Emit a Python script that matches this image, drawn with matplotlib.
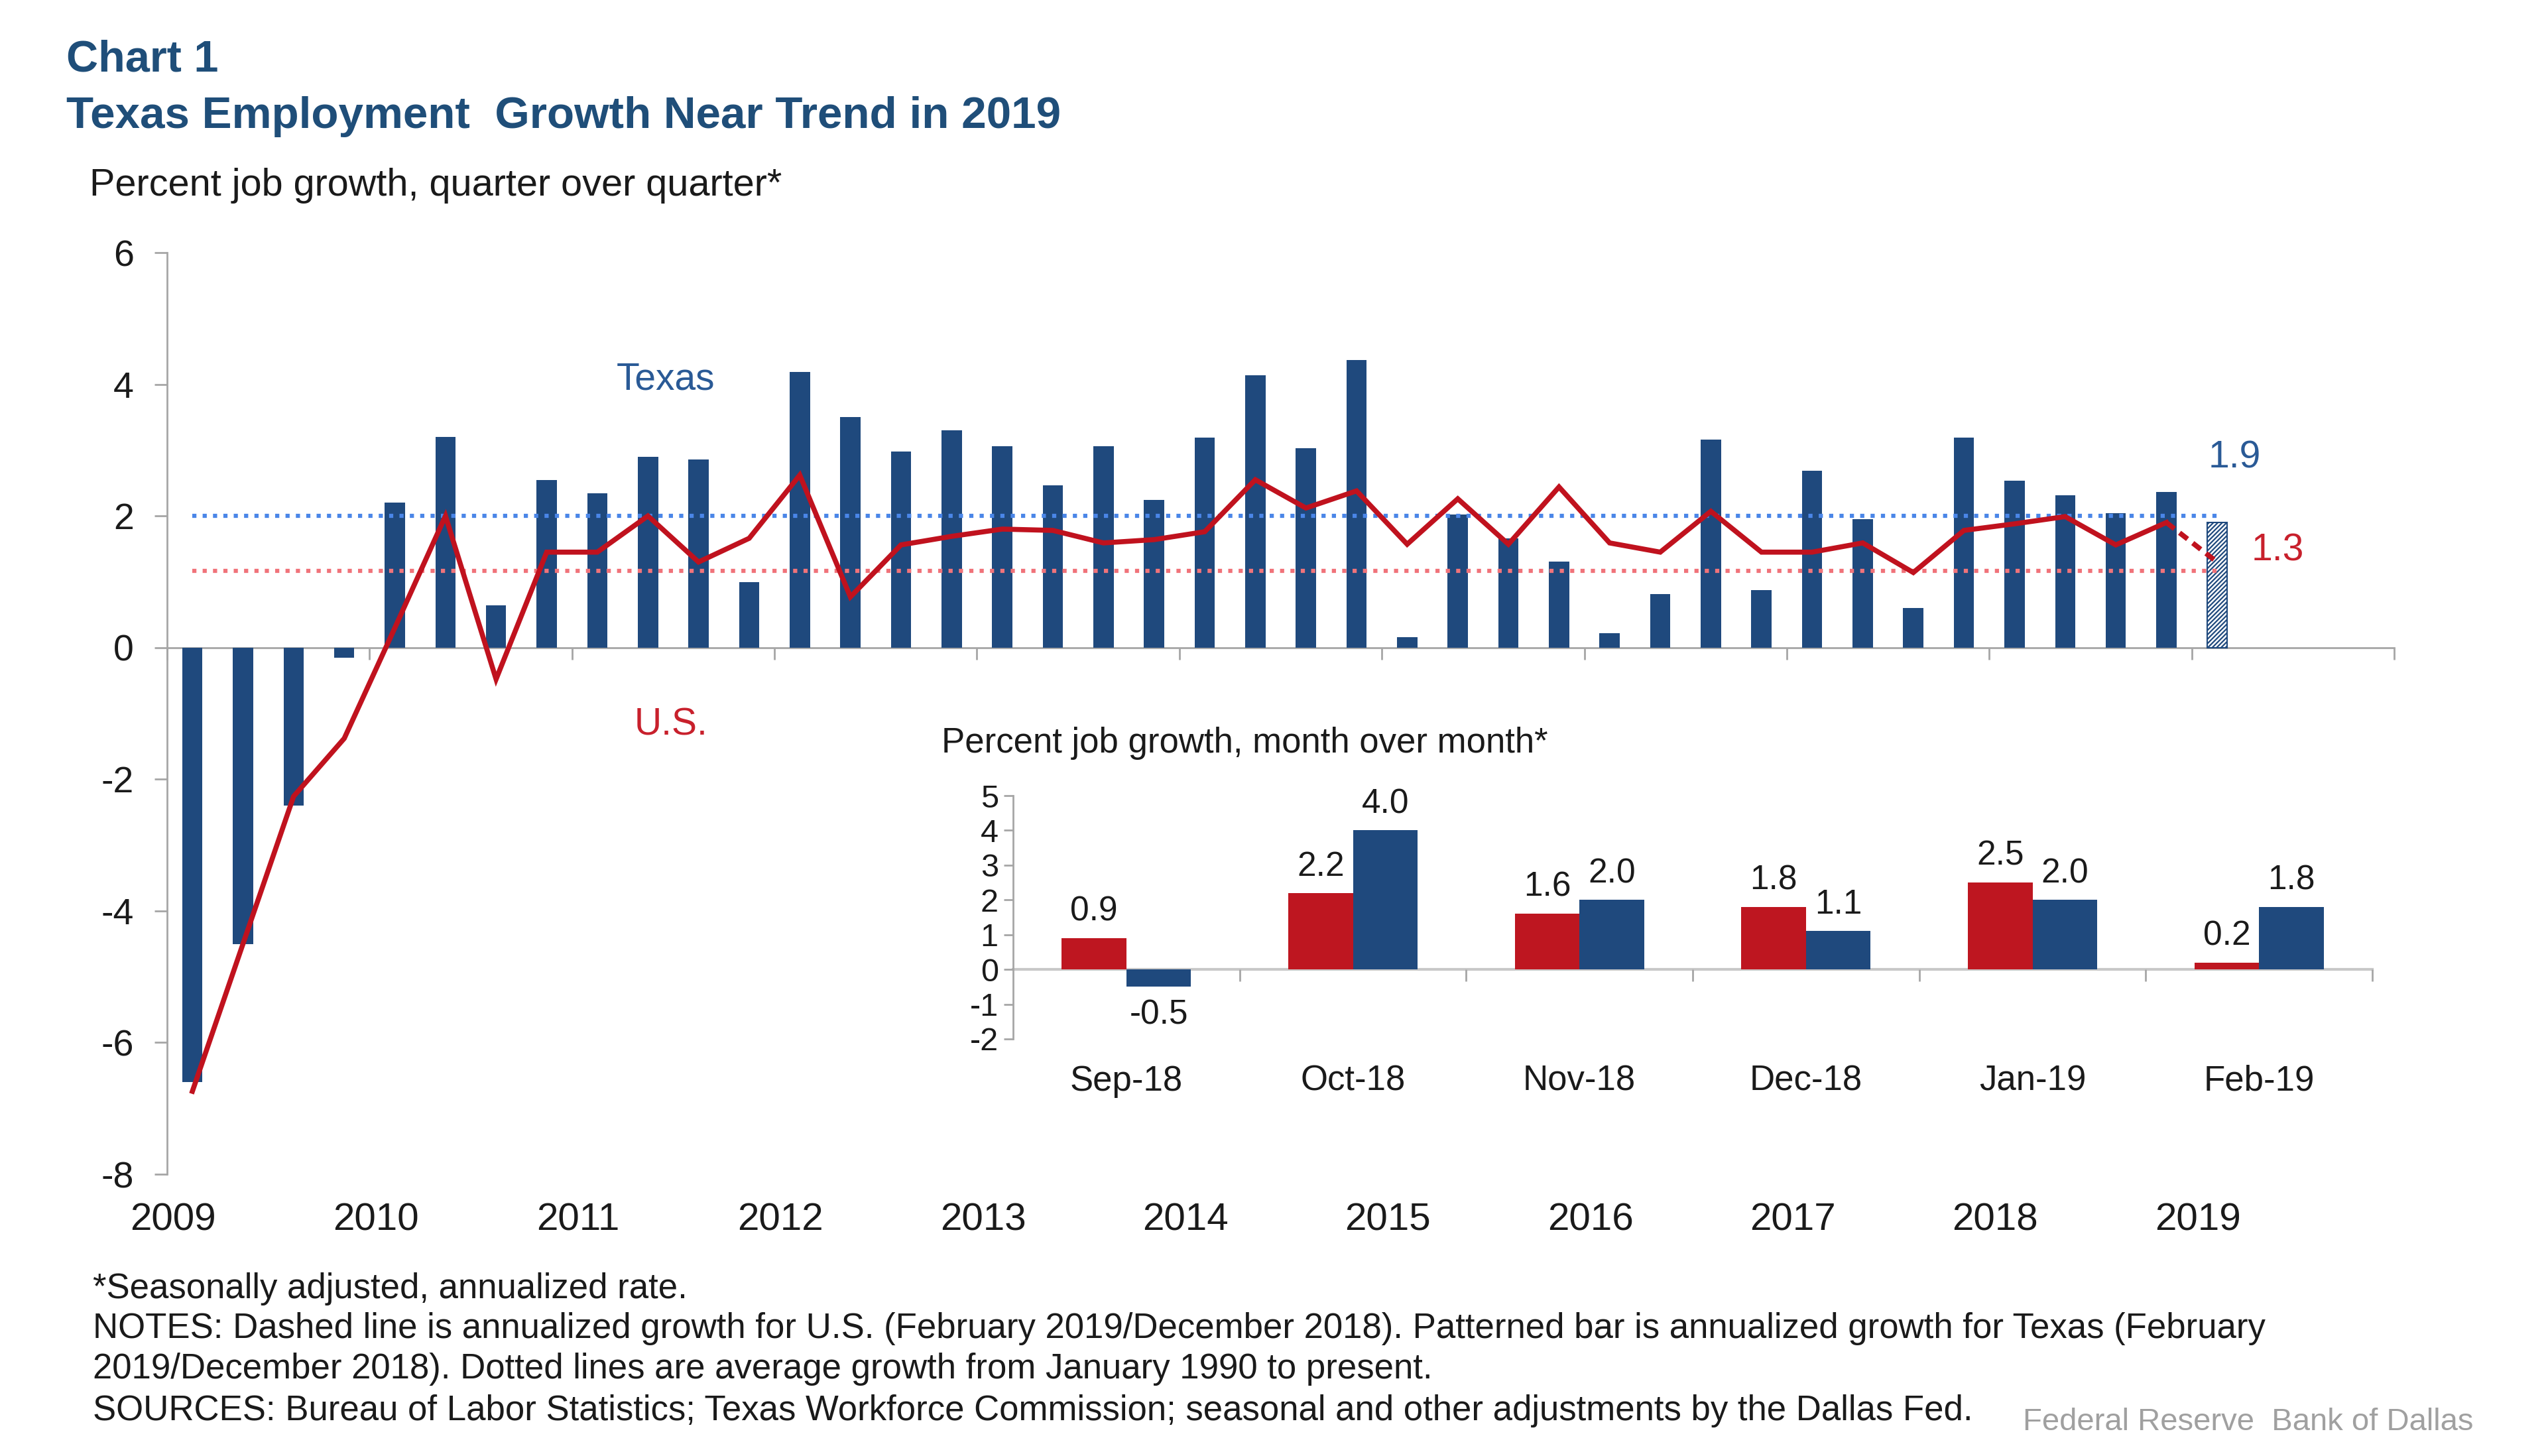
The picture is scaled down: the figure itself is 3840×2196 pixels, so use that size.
import matplotlib
matplotlib.use('Agg')
import matplotlib.pyplot as plt
import numpy as np
from matplotlib.transforms import blended_transform_factory

plt.rcParams['font.family'] = ['Liberation Sans', 'DejaVu Sans']
plt.rcParams['axes.unicode_minus'] = False
plt.rcParams['hatch.linewidth'] = 1.6

# ---------------- data ----------------
years = ['2009', '2010', '2011', '2012', '2013', '2014', '2015', '2016', '2017', '2018', '2019']
# Texas quarterly job growth 2009Q1 .. 2018Q4
texas_q = [-6.6, -4.5, -2.4, -0.15,
           2.2, 3.2, 0.64, 2.55,
           2.34, 2.9, 2.86, 0.99,
           4.19, 3.5, 2.98, 3.3,
           3.06, 2.46, 3.06, 2.24,
           3.19, 4.14, 3.03, 4.37,
           0.16, 2.02, 1.66, 1.31,
           0.22, 0.81, 3.16, 0.87,
           2.69, 1.95, 0.60, 3.19,
           2.54, 2.31, 2.04, 2.36]
# U.S. quarterly job growth 2009Q1 .. 2018Q4
us_q = [-6.74, -4.5, -2.26, -1.38,
        0.3, 2.0, -0.48, 1.45,
        1.45, 2.0, 1.3, 1.66,
        2.62, 0.77, 1.56, 1.69,
        1.8, 1.78, 1.59, 1.64,
        1.76, 2.55, 2.12, 2.38,
        1.57, 2.26, 1.57, 2.44,
        1.59, 1.45, 2.07, 1.45,
        1.45, 1.59, 1.14, 1.78,
        1.88, 1.99, 1.56, 1.90]
texas_feb19 = 1.9   # patterned bar (Feb 2019 / Dec 2018)
us_feb19 = 1.3      # dashed line end
texas_avg = 2.0
us_avg = 1.17

months = ['Sep-18', 'Oct-18', 'Nov-18', 'Dec-18', 'Jan-19', 'Feb-19']
us_m = [0.9, 2.2, 1.6, 1.8, 2.5, 0.2]
texas_m = [-0.5, 4.0, 2.0, 1.1, 2.0, 1.8]

# ---------------- style ----------------
NAVY = '#1F497D'
RED = '#C0121E'
RED_BAR = '#BE1620'
BLUE_DOT = '#4A86E8'
RED_DOT = '#F0737A'
TITLE = '#1F4E79'
GRAY = '#A6A6A6'
TXT = '#1A1A1A'

W, H = 3840, 2196
fig = plt.figure(figsize=(W / 100, H / 100), dpi=100)


def fx(px):
    return px / W


def fy(py):
    return 1 - py / H


# ---------------- titles ----------------
fig.text(fx(100), fy(107), 'Chart 1', fontsize=48, fontweight='bold', color=TITLE, va='baseline')
fig.text(fx(100), fy(193), 'Texas Employment  Growth Near Trend in 2019', fontsize=48.5,
         fontweight='bold', color=TITLE, va='baseline')
fig.text(fx(135), fy(295), 'Percent job growth, quarter over quarter*', fontsize=41.5,
         color=TXT, va='baseline')

# ---------------- main axes ----------------
ax = fig.add_axes([fx(252), fy(1771), fx(3611) - fx(252), fy(381) - fy(1771)])
n = len(texas_q)
xq = np.arange(n)
ax.bar(xq, texas_q, width=0.4, color=NAVY, zorder=2)
ax.bar([n], [texas_feb19], width=0.4, facecolor='white', edgecolor=NAVY,
       hatch='/////', linewidth=1.5, zorder=2)
ax.hlines(texas_avg, 0, n, colors=BLUE_DOT, linestyles=(0, (1, 1.5)), linewidth=4.5, zorder=3)
ax.hlines(us_avg, 0, n, colors=RED_DOT, linestyles=(0, (1, 1.5)), linewidth=4.5, zorder=3)
ax.plot(xq, us_q, color=RED, linewidth=5.5, zorder=4, solid_joinstyle='miter')
ax.plot([n - 1, n], [us_q[-1], us_feb19], color=RED, linewidth=5.5,
        linestyle=(0, (2.0, 1.3)), zorder=4)

ax.set_xlim(-0.5, 43.5)
ax.set_ylim(-8, 6)
for s in ['top', 'right']:
    ax.spines[s].set_visible(False)
ax.spines['left'].set_color(GRAY)
ax.spines['left'].set_linewidth(2)
ax.spines['bottom'].set_position(('data', 0))
ax.spines['bottom'].set_color(GRAY)
ax.spines['bottom'].set_linewidth(2)
ax.spines['bottom'].set_zorder(1)

yt = list(range(-8, 7, 2))
ax.set_yticks(yt)
ax.set_yticklabels([str(v) for v in yt], fontsize=40, color=TXT)
ax.tick_params(axis='y', direction='out', length=14, width=2, color=GRAY, pad=22)
boundaries = [-0.5 + 4 * k for k in range(12)]
ax.set_xticks(boundaries)
ax.set_xticklabels([''] * len(boundaries))
ax.tick_params(axis='x', direction='out', length=13, width=2, color=GRAY)

tr = blended_transform_factory(ax.transData, ax.transAxes)
for k, yl in enumerate(years):
    ax.text(boundaries[k] + 0.12, -0.05, yl, transform=tr, ha='center', va='center',
            fontsize=42, color=TXT)

ax.text(9.35, 4.07, 'Texas', color='#2A5A96', fontsize=41, ha='center', va='center')
ax.text(9.45, -1.18, 'U.S.', color='#C8202C', fontsize=41, ha='center', va='center')
ax.text(40.35, 2.88, '1.9', color='#2A5A96', fontsize=41, ha='center', va='center')
ax.text(41.2, 1.47, '1.3', color='#C8202C', fontsize=41, ha='center', va='center')

# ---------------- inset axes ----------------
ax2 = fig.add_axes([fx(1528), fy(1567), fx(3578) - fx(1528), fy(1200) - fy(1567)])
xm = np.arange(len(months))
bw = 0.285
ax2.bar(xm - bw / 2, us_m, width=bw, color=RED_BAR, zorder=2)
ax2.bar(xm + bw / 2, texas_m, width=bw, color=NAVY, zorder=2)
for i in range(len(months)):
    for xv, v in ((xm[i] - bw / 2, us_m[i]), (xm[i] + bw / 2, texas_m[i])):
        if v >= 0:
            ax2.annotate(f'{v:.1f}', (xv, v), xytext=(0, 11), textcoords='offset points',
                         ha='center', va='bottom', fontsize=37, color=TXT)
        else:
            ax2.annotate(f'{v:.1f}', (xv, v), xytext=(0, -13), textcoords='offset points',
                         ha='center', va='top', fontsize=37, color=TXT)

ax2.set_xlim(-0.5, 5.5)
ax2.set_ylim(-2, 5)
for s in ['top', 'right']:
    ax2.spines[s].set_visible(False)
ax2.spines['left'].set_color(GRAY)
ax2.spines['left'].set_linewidth(2)
ax2.spines['bottom'].set_position(('data', 0))
ax2.spines['bottom'].set_color('#C8C8C8')
ax2.spines['bottom'].set_linewidth(3)
ax2.spines['bottom'].set_zorder(1)
yt2 = list(range(-2, 6))
ax2.set_yticks(yt2)
ax2.set_yticklabels([str(v) for v in yt2], fontsize=35, color=TXT)
ax2.tick_params(axis='y', direction='out', length=10, width=2, color=GRAY, pad=6)
mb = [i + 0.5 for i in range(len(months))]
ax2.set_xticks(mb)
ax2.set_xticklabels([''] * len(mb))
ax2.tick_params(axis='x', direction='out', length=13, width=2, color=GRAY)
tr2 = blended_transform_factory(ax2.transData, ax2.transAxes)
for i, m in enumerate(months):
    ax2.text(xm[i], -0.174, m, transform=tr2, ha='center', va='center', fontsize=38, color=TXT)
fig.text(fx(1420), fy(1135), 'Percent job growth, month over month*', fontsize=38,
         color=TXT, va='baseline')

# ---------------- notes ----------------
notes = ['*Seasonally adjusted, annualized rate.',
         'NOTES: Dashed line is annualized growth for U.S. (February 2019/December 2018). '
         'Patterned bar is annualized growth for Texas (February',
         '2019/December 2018). Dotted lines are average growth from January 1990 to present.',
         'SOURCES: Bureau of Labor Statistics; Texas Workforce Commission; seasonal and other '
         'adjustments by the Dallas Fed.']
for yb, t in zip([1958, 2018, 2079, 2142], notes):
    fig.text(fx(140), fy(yb), t, fontsize=38, color=TXT, va='baseline')
fig.text(fx(3051), fy(2157), 'Federal Reserve  Bank of Dallas', fontsize=34, color='#A0A0A0',
         va='baseline')

fig.savefig('out.png', dpi=100, facecolor='white')
